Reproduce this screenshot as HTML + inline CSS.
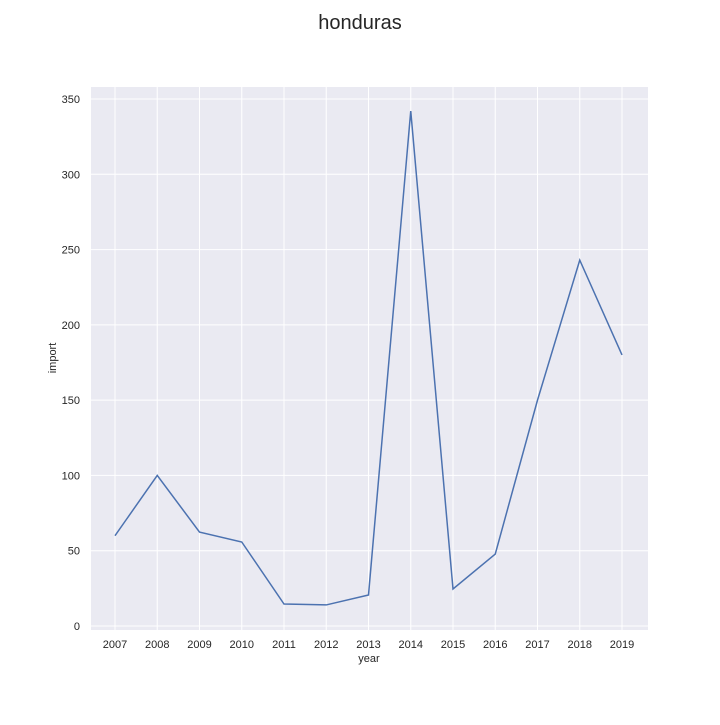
<!DOCTYPE html>
<html><head><meta charset="utf-8"><style>
body{margin:0;background:#fff;font-family:"Liberation Sans",sans-serif;}
</style></head><body>
<svg id="c" width="720" height="720" xmlns="http://www.w3.org/2000/svg">
<text x="360" y="29" text-anchor="middle" font-size="20" fill="#262626">honduras</text>
<rect x="91" y="87" width="557" height="543" fill="#EAEAF2"/>
<g id="grid"></g><g id="ticks"></g>
<text x="369" y="662" text-anchor="middle" font-size="11" fill="#262626">year</text>
<text x="56" y="358" text-anchor="middle" font-size="11" fill="#262626" transform="rotate(-90 56 358)">import</text>
<path id="line" fill="none" stroke="#4C72B0" stroke-width="1.5"/>
</svg>
<script>
const years=[2007,2008,2009,2010,2011,2012,2013,2014,2015,2016,2017,2018,2019];
const imports=[60,100,62.4,55.8,14.6,14,20.6,342,24.6,47.8,150,243,180];
const yTicks=[0,50,100,150,200,250,300,350];
const ns="http://www.w3.org/2000/svg";
const xs=v=>115+(v-2007)*42.25;
const ys=v=>626-v*1.5057;
const g=document.getElementById('grid'),t=document.getElementById('ticks');
function mk(tag,attrs,parent){const e=document.createElementNS(ns,tag);for(const k in attrs)e.setAttribute(k,attrs[k]);parent.appendChild(e);return e;}
years.forEach(y=>{
 const l=mk('line',{x1:xs(y),x2:xs(y),y1:87,y2:630,stroke:'#fff','stroke-width':1},g);
 
 
 const tx=mk('text',{x:xs(y),y:648,'text-anchor':'middle','font-size':11,fill:'#262626'},t);
 tx.textContent=y;
 
 
});
yTicks.forEach(v=>{
 const l=mk('line',{x1:91,x2:648,y1:ys(v),y2:ys(v),stroke:'#fff','stroke-width':1},g);
 
 
 const tx=mk('text',{x:80,y:ys(v)+4,'text-anchor':'end','font-size':11,fill:'#262626'},t);
 tx.textContent=v;
 
 
});
document.getElementById('line').setAttribute('d',years.map((y,i)=>(i?'L':'M')+xs(y)+','+ys(imports[i])).join(' '));
</script>
</body></html>
